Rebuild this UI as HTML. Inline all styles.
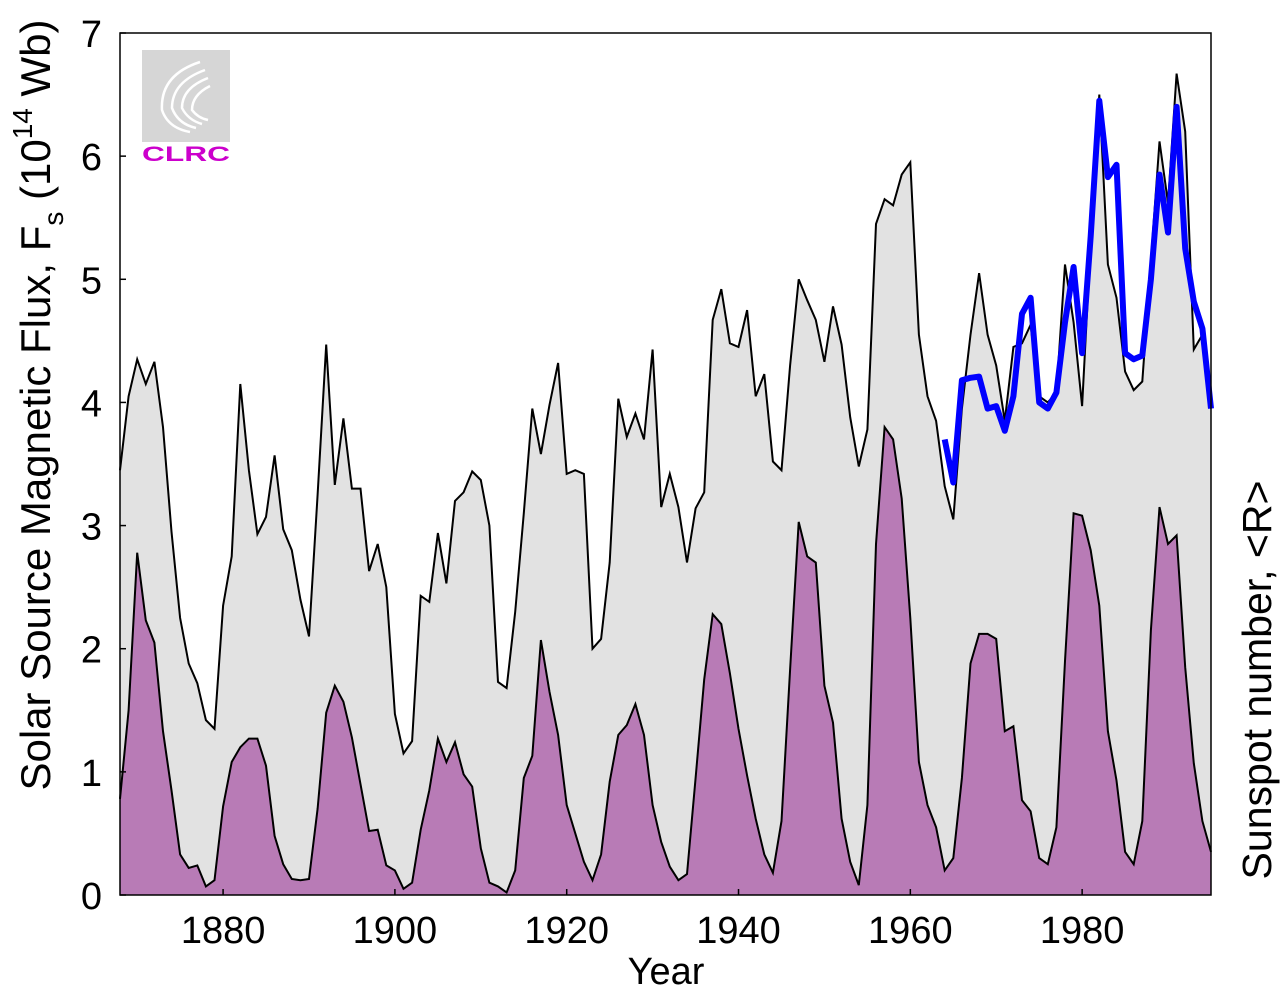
<!DOCTYPE html>
<html><head><meta charset="utf-8"><style>
body{margin:0;background:#fff;}
svg text{font-family:"Liberation Sans",sans-serif;fill:#000;}
</style></head><body>
<svg id="chart" width="1280" height="989" xmlns="http://www.w3.org/2000/svg">
<g id="plot"></g>
<g>
<rect x="142" y="50" width="88" height="92" fill="#d6d6d6"/>
<g fill="none" stroke="#fff" stroke-width="2.5">
<path d="M200 62 Q160 75 162 110 Q168 128 190 132"/>
<path d="M205 70 Q172 82 172 108 Q178 124 196 128"/>
<path d="M208 78 Q182 88 182 108 Q188 120 202 124"/>
<path d="M210 86 Q192 95 192 110 Q198 118 208 120"/>
</g>
<text x="186" y="161" font-size="21" font-weight="bold" text-anchor="middle" textLength="88" lengthAdjust="spacingAndGlyphs" style="fill:#cc00cc">CLRC</text>
</g>
<text x="666" y="984" font-size="38" text-anchor="middle">Year</text>
<text transform="translate(50,405) rotate(-90)" font-size="42" text-anchor="middle">Solar Source Magnetic Flux, F<tspan font-size="28" dy="13">s</tspan><tspan dy="-13"> (10</tspan><tspan font-size="28" dy="-18">14</tspan><tspan dy="18"> Wb)</tspan></text>
<text transform="translate(1271,680) rotate(-90)" font-size="41" text-anchor="middle">Sunspot number, &lt;R&gt;</text>
</svg>
<script>
const years = [];for(let y=1868;y<=1995;y++)years.push(y);
const fluxValues = [3.45,4.05,4.35,4.15,4.33,3.8,2.95,2.25,1.88,1.72,1.42,1.35,2.35,2.75,4.15,3.45,2.93,3.07,3.57,2.97,2.8,2.4,2.1,3.25,4.47,3.33,3.87,3.3,3.3,2.63,2.85,2.5,1.47,1.15,1.25,2.43,2.38,2.94,2.53,3.2,3.27,3.44,3.37,3.0,1.73,1.68,2.3,3.1,3.95,3.58,3.98,4.32,3.42,3.45,3.42,2.0,2.08,2.7,4.03,3.72,3.91,3.7,4.43,3.15,3.42,3.15,2.7,3.14,3.27,4.67,4.92,4.48,4.45,4.75,4.05,4.23,3.52,3.45,4.3,5.0,4.83,4.67,4.33,4.78,4.47,3.88,3.48,3.78,5.45,5.65,5.6,5.85,5.95,4.55,4.05,3.85,3.32,3.05,3.95,4.55,5.05,4.55,4.3,3.85,4.45,4.48,4.63,4.05,4.0,4.08,5.12,4.65,3.97,5.3,6.5,5.12,4.85,4.25,4.1,4.17,5.15,6.12,5.62,6.67,6.2,4.43,4.55,3.95];
const sunspotValues = [0.78,1.5,2.78,2.23,2.05,1.33,0.85,0.33,0.22,0.24,0.07,0.12,0.72,1.08,1.2,1.27,1.27,1.05,0.48,0.25,0.13,0.12,0.13,0.7,1.48,1.7,1.57,1.28,0.9,0.52,0.53,0.24,0.2,0.05,0.1,0.53,0.85,1.27,1.08,1.24,0.98,0.88,0.38,0.1,0.07,0.02,0.2,0.95,1.13,2.07,1.65,1.3,0.73,0.5,0.27,0.12,0.33,0.92,1.3,1.38,1.55,1.3,0.73,0.43,0.23,0.12,0.17,0.95,1.75,2.28,2.2,1.8,1.35,0.97,0.62,0.33,0.18,0.6,1.83,3.03,2.75,2.7,1.7,1.4,0.62,0.27,0.08,0.73,2.85,3.8,3.7,3.22,2.25,1.08,0.73,0.55,0.2,0.3,0.95,1.88,2.12,2.12,2.08,1.33,1.37,0.77,0.68,0.3,0.25,0.55,1.9,3.1,3.08,2.8,2.35,1.33,0.93,0.35,0.25,0.6,2.15,3.15,2.85,2.92,1.85,1.07,0.6,0.35];
const blueYears = [];for(let y=1964;y<=1995;y++)blueYears.push(y);
const blueValues = [3.7,3.35,4.18,4.2,4.21,3.95,3.97,3.77,4.05,4.72,4.85,4.0,3.95,4.08,4.65,5.1,4.4,5.35,6.45,5.83,5.93,4.4,4.35,4.38,5.0,5.85,5.38,6.4,5.25,4.82,4.6,3.95];
const xTicks = [1880,1900,1920,1940,1960,1980];
const yTicks = [0,1,2,3,4,5,6,7];

const L=120,R=1211,T=33,B=895,X0=1868,X1=1995;
const sx=v=>L+(v-X0)/(X1-X0)*(R-L);
const sy=v=>B-v/7*(B-T);
const NS='http://www.w3.org/2000/svg';
const g=document.getElementById('plot');
function mk(tag,attrs){const e=document.createElementNS(NS,tag);for(const k in attrs)e.setAttribute(k,attrs[k]);g.appendChild(e);return e;}
function area(xs,vs){let d='M'+sx(xs[0])+','+B;xs.forEach((x,i)=>d+=' L'+sx(x).toFixed(1)+','+sy(vs[i]).toFixed(1));return d+' L'+sx(xs[xs.length-1])+','+B+' Z';}
function line(xs,vs){return xs.map((x,i)=>(i?'L':'M')+sx(x).toFixed(1)+','+sy(vs[i]).toFixed(1)).join(' ');}
let e;
e=mk('path',{d:area(years,fluxValues),fill:'#e2e2e2',stroke:'none'});


e=mk('path',{d:line(years,fluxValues),fill:'none',stroke:'#000','stroke-width':2});


e=mk('path',{d:area(years,sunspotValues),fill:'#b87bb6',stroke:'none'});


e=mk('path',{d:line(years,sunspotValues),fill:'none',stroke:'#000','stroke-width':2});


e=mk('path',{d:line(blueYears,blueValues),fill:'none',stroke:'#0000ff','stroke-width':6,'stroke-linejoin':'round'});


e=mk('rect',{x:L,y:T,width:R-L,height:B-T,fill:'none',stroke:'#000','stroke-width':1.5});


xTicks.forEach(t=>{
 e=mk('line',{x1:sx(t),x2:sx(t),y1:B,y2:B-6,stroke:'#000','stroke-width':1.5});
 
 
 e=mk('text',{x:sx(t),y:943,'font-size':38,'text-anchor':'middle'});e.textContent=t;
 
 
});
yTicks.forEach(t=>{
 e=mk('line',{x1:L,x2:L+6,y1:sy(t),y2:sy(t),stroke:'#000','stroke-width':1.5});
 
 
 e=mk('text',{x:102,y:sy(t)+14,'font-size':38,'text-anchor':'end'});e.textContent=t;
 
 
});
</script>
</body></html>
